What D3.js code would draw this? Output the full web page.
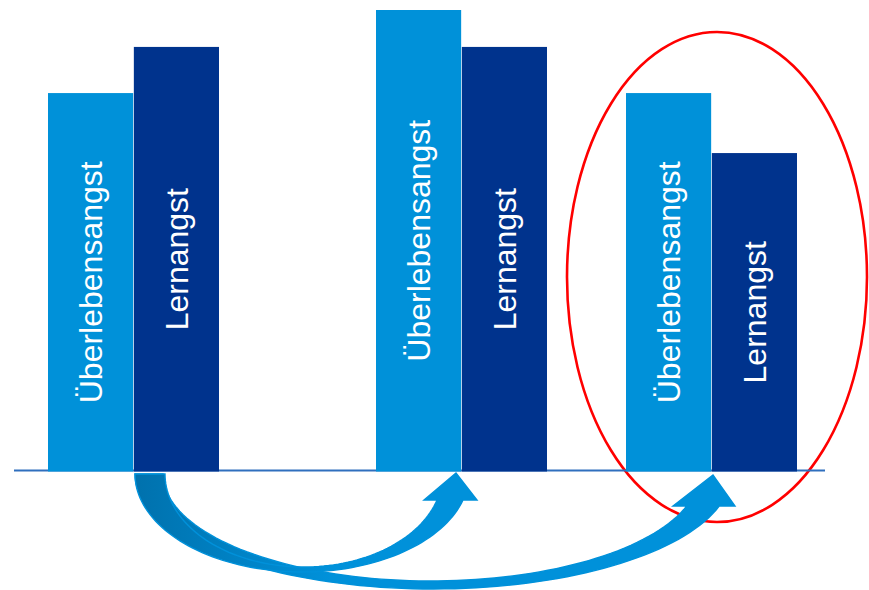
<!DOCTYPE html>
<html>
<head>
<meta charset="utf-8">
<script src="https://cdn.jsdelivr.net/npm/d3@7"></script>
<style>
  html, body { margin: 0; padding: 0; background: #ffffff; }
  svg { display: block; }
</style>
</head>
<body>
<svg id="chart" width="869" height="590"></svg>
<script>
// ---- data ----
const categories = ["Phase 1", "Phase 2", "Phase 3"];
const seriesNames = ["Überlebensangst", "Lernangst"];
const survivalAnxiety = [82, 100, 82];
const learningAnxiety = [92, 92, 69];

const colors = { "Überlebensangst": "#0091D9", "Lernangst": "#00338D" };

const svg = d3.select("#chart");
const W = 869, H = 590;

// ---- scales ----
const baseY = 471.5, topY = 10;
const y = d3.scaleLinear().domain([0, 100]).range([baseY, topY]);
// group left edges (groups are irregularly spaced in the original slide)
const xGroup = d3.scaleOrdinal().domain(categories).range([48, 376, 626]);
const xInner = d3.scaleBand().domain(seriesNames).range([0, 171]).paddingInner(0.008);

const rows = [];
categories.forEach((c, i) => {
  rows.push({ cat: c, series: "Überlebensangst", value: survivalAnxiety[i] });
  rows.push({ cat: c, series: "Lernangst", value: learningAnxiety[i] });
});

// ---- red ellipse (highlight of the third group) ----
svg.append("ellipse")
  .attr("cx", 717).attr("cy", 277).attr("rx", 150).attr("ry", 245)
  .attr("fill", "none").attr("stroke", "#FF0000").attr("stroke-width", 2.6);

// ---- baseline ----
svg.append("line")
  .attr("x1", 14).attr("x2", 825)
  .attr("y1", 470.5).attr("y2", 470.5)
  .attr("stroke", "#2F6FBE").attr("stroke-width", 1.8);

// ---- bars ----
const bars = svg.append("g");
bars.selectAll("rect").data(rows).join("rect")
  .attr("x", d => xGroup(d.cat) + xInner(d.series))
  .attr("width", xInner.bandwidth())
  .attr("y", d => y(d.value))
  .attr("height", d => baseY - y(d.value))
  .attr("fill", d => colors[d.series]);

bars.selectAll("text").data(rows).join("text")
  .attr("transform", d => {
    const cx = xGroup(d.cat) + xInner(d.series) + xInner.bandwidth() / 2;
    const cy = (y(d.value) + baseY) / 2;
    return `translate(${cx},${cy}) rotate(-90)`;
  })
  .attr("text-anchor", "middle")
  .attr("dy", "0.37em")
  .attr("fill", "#ffffff")
  .attr("font-family", "'Liberation Sans', Arial, sans-serif")
  .attr("font-size", 32)
  .text(d => d.series);

// ---- curved arrows ----
const defs = svg.append("defs");
const grad = defs.append("linearGradient")
  .attr("id", "arrowGrad").attr("gradientUnits", "userSpaceOnUse")
  .attr("x1", 140).attr("y1", 0).attr("x2", 330).attr("y2", 0);
grad.append("stop").attr("offset", 0).attr("stop-color", "#0072AE");
grad.append("stop").attr("offset", 1).attr("stop-color", "#0091DA");

const arrows = [
  { // long arrow to group 3
    cy: 474,
    outer: { cx: 433, rx: 298, ry: 115 },
    inner: { cx: 431, rx: 268, ry: 107 },
    headY: 506, headL: 673, headR: 735, tip: [713, 475]
  },
  { // short arrow to group 2
    cy: 474,
    outer: { cx: 302, rx: 167, ry: 98 },
    inner: { cx: 303.8, rx: 138.8, ry: 93 },
    headY: 500, headL: 424, headR: 477, tip: [456, 473]
  }
];

function arcPts(e, cy, hb, reverse) {
  const tEnd = Math.asin((hb - cy) / e.ry);
  const n = 80, pts = [];
  for (let i = 0; i <= n; i++) {
    const t = Math.PI - (Math.PI - tEnd) * i / n;
    pts.push([e.cx + e.rx * Math.cos(t), cy + e.ry * Math.sin(t)]);
  }
  return reverse ? pts.reverse() : pts;
}

const line = d3.line();
arrows.forEach(a => {
  const pts = []
    .concat(arcPts(a.outer, a.cy, a.headY, false))
    .concat([[a.headR, a.headY], a.tip, [a.headL, a.headY]])
    .concat(arcPts(a.inner, a.cy, a.headY, true));
  svg.append("path")
    .attr("d", line(pts) + "Z")
    .attr("fill", "url(#arrowGrad)")
    .attr("stroke", "#0091DA")
    .attr("stroke-width", 1.4)
    .attr("stroke-linejoin", "miter");
});
</script>
</body>
</html>
